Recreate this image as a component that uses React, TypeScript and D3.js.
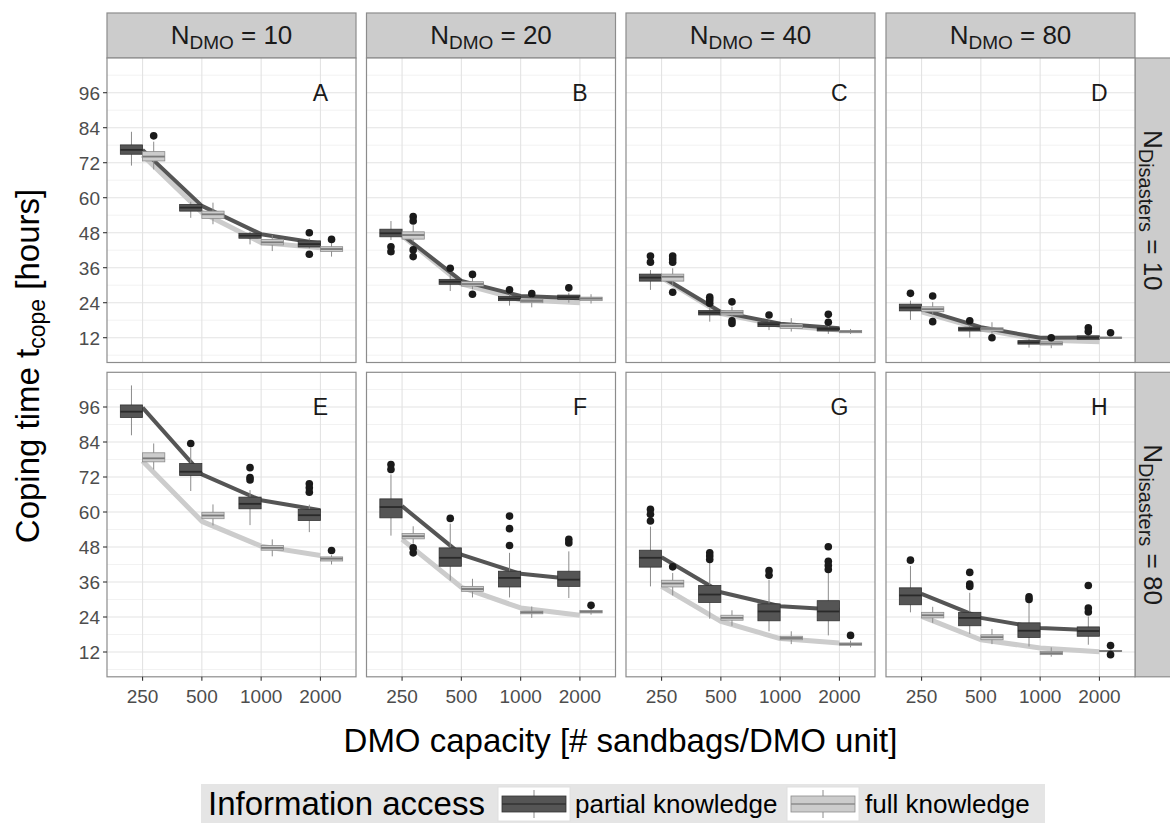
import React from 'react';
import * as d3 from 'd3';

const FONT = "'Liberation Sans', Arial, Helvetica, sans-serif";

const capacities = ['250', '500', '1000', '2000'];
const nDMO = ['10', '20', '40', '80'];
const nDisasters = ['10', '80'];
const yTicks = [12, 24, 36, 48, 60, 72, 84, 96];
const yMinor = [6, 18, 30, 42, 54, 66, 78, 90, 102];

// [capacity, knowledge, lower whisker, q1, median, q3, upper whisker, outliers]
type Row = [string, 'partial' | 'full', number, number, number, number, number, number[]];

const boxesA: Row[] = [
  ['250', 'partial', 71.0, 74.9, 76.4, 78.1, 82.6, []],
  ['500', 'partial', 53.1, 55.4, 56.6, 57.7, 58.6, []],
  ['1000', 'partial', 44.0, 46.1, 47.0, 47.8, 48.4, []],
  ['2000', 'partial', 42.6, 43.1, 44.1, 45.2, 46.1, [48.0, 40.6]],
  ['250', 'full', 69.7, 72.6, 74.1, 75.8, 79.2, [81.2]],
  ['500', 'full', 50.9, 52.9, 54.3, 55.4, 58.3, []],
  ['1000', 'full', 41.7, 43.8, 44.7, 45.7, 47.2, []],
  ['2000', 'full', 39.8, 41.6, 42.4, 43.2, 44.6, [45.7]],
];
const boxesB: Row[] = [
  ['250', 'partial', 45.5, 46.6, 47.8, 49.2, 52.0, [43.2, 41.5]],
  ['500', 'partial', 28.0, 30.3, 31.2, 32.0, 33.5, [35.8]],
  ['1000', 'partial', 23.0, 24.7, 25.4, 26.1, 26.9, [28.4]],
  ['2000', 'partial', 24.0, 25.2, 25.9, 26.6, 27.4, [29.1]],
  ['250', 'full', 44.9, 45.8, 47.2, 48.3, 50.6, [53.5, 52.0, 42.1, 39.8]],
  ['500', 'full', 28.6, 29.7, 30.4, 31.2, 32.6, [33.7, 26.9]],
  ['1000', 'full', 22.4, 24.0, 24.6, 25.2, 26.4, [27.1]],
  ['2000', 'full', 23.7, 24.7, 25.4, 25.9, 26.9, []],
];
const boxesC: Row[] = [
  ['250', 'partial', 28.4, 31.4, 32.6, 33.8, 35.2, [40.0, 37.9]],
  ['500', 'partial', 17.5, 19.8, 20.6, 21.3, 22.6, [25.9, 24.9, 23.8]],
  ['1000', 'partial', 14.6, 15.8, 16.6, 17.3, 17.8, [19.8]],
  ['2000', 'partial', 13.3, 14.3, 15.0, 15.4, 16.4, [20.0, 17.3]],
  ['250', 'full', 30.1, 31.4, 32.9, 33.8, 35.8, [40.0, 39.0, 37.9, 27.6]],
  ['500', 'full', 18.7, 19.8, 20.6, 21.3, 22.6, [24.3, 17.8, 16.9]],
  ['1000', 'full', 14.1, 15.2, 16.0, 16.7, 18.7, []],
  ['2000', 'full', 13.3, 13.7, 14.1, 14.5, 15.0, []],
];
const boxesD: Row[] = [
  ['250', 'partial', 18.1, 21.2, 22.3, 23.5, 24.7, [27.2]],
  ['500', 'partial', 12.0, 14.3, 15.0, 15.6, 16.4, [17.8]],
  ['1000', 'partial', 8.6, 9.8, 10.4, 11.0, 11.7, []],
  ['2000', 'partial', 11.4, 11.5, 12.0, 12.6, 12.9, [15.4, 14.1]],
  ['250', 'full', 19.8, 20.9, 21.8, 22.6, 24.2, [26.3, 17.5]],
  ['500', 'full', 13.3, 14.3, 15.0, 15.4, 17.3, [12.0]],
  ['1000', 'full', 8.4, 9.5, 10.0, 10.6, 11.7, [12.0]],
  ['2000', 'full', 11.7, 11.7, 12.0, 12.2, 12.2, [13.7]],
];
const boxesE: Row[] = [
  ['250', 'partial', 86.3, 92.4, 94.4, 96.7, 103.4, []],
  ['500', 'partial', 67.2, 72.5, 73.8, 76.6, 82.1, [83.5]],
  ['1000', 'partial', 55.5, 61.1, 62.8, 65.1, 67.5, [75.2, 71.8, 71.0]],
  ['2000', 'partial', 53.1, 57.1, 58.9, 60.9, 62.5, [69.7, 68.3, 66.8]],
  ['250', 'full', 74.6, 77.2, 78.4, 80.3, 83.5, []],
  ['500', 'full', 55.4, 57.7, 58.8, 59.9, 62.6, []],
  ['1000', 'full', 44.8, 46.9, 47.7, 48.5, 50.6, []],
  ['2000', 'full', 42.0, 43.2, 44.0, 44.6, 45.2, [46.8]],
];
const boxesF: Row[] = [
  ['250', 'partial', 51.9, 58.0, 61.7, 64.5, 72.9, [76.3, 74.6]],
  ['500', 'partial', 36.5, 41.4, 44.3, 47.7, 56.0, [57.8]],
  ['1000', 'partial', 30.7, 34.3, 37.4, 39.7, 46.0, [58.6, 54.3, 48.5]],
  ['2000', 'partial', 30.5, 34.5, 36.8, 39.7, 46.5, [50.6, 49.4]],
  ['250', 'full', 49.1, 50.8, 51.7, 52.6, 55.1, [47.7, 46.0]],
  ['500', 'full', 30.7, 32.8, 33.6, 34.5, 37.1, []],
  ['1000', 'full', 23.7, 25.1, 25.6, 26.0, 27.6, []],
  ['2000', 'full', 24.8, 25.4, 25.8, 26.2, 26.9, [28.0]],
];
const boxesG: Row[] = [
  ['250', 'partial', 34.5, 41.1, 44.3, 46.9, 55.0, [60.9, 59.2, 56.9]],
  ['500', 'partial', 23.4, 29.0, 31.7, 34.8, 42.6, [46.0, 44.9, 43.7]],
  ['1000', 'partial', 19.1, 22.7, 25.9, 28.5, 36.8, [39.9, 38.3]],
  ['2000', 'partial', 17.7, 22.7, 25.9, 29.6, 39.1, [48.1, 43.1, 41.7, 40.3]],
  ['250', 'full', 31.4, 34.3, 35.5, 36.6, 39.1, [41.2]],
  ['500', 'full', 21.0, 22.9, 23.7, 24.6, 26.3, []],
  ['1000', 'full', 14.7, 16.2, 16.8, 17.4, 19.1, []],
  ['2000', 'full', 13.6, 14.3, 14.7, 15.1, 15.9, [17.7]],
];
const boxesH: Row[] = [
  ['250', 'partial', 25.6, 28.2, 31.4, 34.0, 41.5, [43.5]],
  ['500', 'partial', 18.2, 21.0, 23.7, 25.6, 32.3, [39.3, 35.3, 34.5]],
  ['1000', 'partial', 13.9, 17.0, 19.3, 22.0, 29.0, [30.9, 30.0]],
  ['2000', 'partial', 14.5, 17.4, 19.2, 20.6, 24.2, [34.8, 27.1, 25.7]],
  ['250', 'full', 22.0, 23.7, 24.6, 25.6, 27.5, []],
  ['500', 'full', 14.7, 16.2, 17.1, 17.9, 19.9, []],
  ['1000', 'full', 10.4, 11.1, 11.6, 12.2, 13.6, []],
  ['2000', 'full', 12.1, 12.2, 12.3, 12.5, 12.6, [14.2, 11.1]],
];

// mean lines: [partial, full]
const meansA = [[76.4, 57.2, 47.5, 44.3], [74.6, 54.9, 44.6, 42.8]];
const meansB = [[47.3, 31.5, 26.3, 25.5], [47.0, 30.5, 25.0, 24.0]];
const meansC = [[33.0, 20.8, 16.8, 15.2], [32.6, 20.3, 16.2, 14.6]];
const meansD = [[21.8, 15.6, 12.0, 12.1], [20.9, 15.0, 11.2, 10.6]];
const meansE = [[95.8, 72.9, 64.0, 60.6], [77.5, 56.8, 48.3, 45.1]];
const meansF = [[62.0, 45.4, 38.8, 36.8], [50.6, 34.2, 27.1, 24.6]];
const meansG = [[44.5, 32.5, 27.7, 26.5], [34.5, 22.5, 16.6, 15.1]];
const meansH = [[31.9, 23.7, 20.2, 19.4], [24.2, 16.2, 13.4, 12.1]];

const panels = [
  { label: 'A', row: 0, col: 0, boxes: boxesA, means: meansA },
  { label: 'B', row: 0, col: 1, boxes: boxesB, means: meansB },
  { label: 'C', row: 0, col: 2, boxes: boxesC, means: meansC },
  { label: 'D', row: 0, col: 3, boxes: boxesD, means: meansD },
  { label: 'E', row: 1, col: 0, boxes: boxesE, means: meansE },
  { label: 'F', row: 1, col: 1, boxes: boxesF, means: meansF },
  { label: 'G', row: 1, col: 2, boxes: boxesG, means: meansG },
  { label: 'H', row: 1, col: 3, boxes: boxesH, means: meansH },
];

const COLS = [107, 366.5, 626, 886];
const ROWS = [58, 372.3];
const PW = 249;
const PH = 304.5;

const DARK = '#555555';
const LIGHT = '#cccccc';

function Panel({ p }: { p: (typeof panels)[number] }) {
  const x0 = COLS[p.col];
  const y0 = ROWS[p.row];
  const x = d3.scalePoint<string>().domain(capacities).range([x0, x0 + PW]).padding(0.6);
  const y = d3.scaleLinear().domain([12, 96]).range([y0 + 279.7, y0 + 34.7]);
  const step = x.step();
  const bw = step * 0.375;
  const line = d3
    .line<number>()
    .x((_, i) => x(capacities[i]) as number)
    .y((d) => y(d));

  return (
    <g>
      <rect x={x0} y={y0} width={PW} height={PH} fill="#fff" />
      {yMinor.map((t) => (
        <line key={'m' + t} x1={x0} x2={x0 + PW} y1={y(t)} y2={y(t)} stroke="#f2f2f2" strokeWidth={1} />
      ))}
      {yTicks.map((t) => (
        <line key={'g' + t} x1={x0} x2={x0 + PW} y1={y(t)} y2={y(t)} stroke="#e3e3e3" strokeWidth={1.1} />
      ))}
      {capacities.map((c) => (
        <line key={'v' + c} x1={x(c)} x2={x(c)} y1={y0} y2={y0 + PH} stroke="#e3e3e3" strokeWidth={1.1} />
      ))}
      <path d={line(p.means[1]) || ''} fill="none" stroke={LIGHT} strokeWidth={5} strokeLinejoin="round" />
      <path d={line(p.means[0]) || ''} fill="none" stroke={DARK} strokeWidth={4} strokeLinejoin="round" />
      {p.boxes.map((b, i) => {
        const [cap, k, lo, q1, med, q3, hi, out] = b;
        const cx = (x(cap) as number) + (k === 'partial' ? -bw / 2 : bw / 2);
        const fill = k === 'partial' ? DARK : LIGHT;
        const edge = k === 'partial' ? '#333333' : '#8c8c8c';
        const mid = k === 'partial' ? '#2a2a2a' : '#7a7a7a';
        return (
          <g key={i}>
            <line x1={cx} x2={cx} y1={y(hi)} y2={y(lo)} stroke="#8c8c8c" strokeWidth={1} />
            <rect x={cx - bw / 2} y={y(q3)} width={bw} height={Math.max(1, y(q1) - y(q3))} fill={fill} stroke={edge} strokeWidth={0.8} />
            <line x1={cx - bw / 2} x2={cx + bw / 2} y1={y(med)} y2={y(med)} stroke={mid} strokeWidth={1.8} />
            {out.map((o, j) => (
              <circle key={j} cx={cx} cy={y(o)} r={3.8} fill="#1a1a1a" />
            ))}
          </g>
        );
      })}
      <text x={x('2000')} y={y(96)} dy="0.36em" textAnchor="middle" fontSize={23} fill="#1a1a1a">
        {p.label}
      </text>
      <rect x={x0} y={y0} width={PW} height={PH} fill="none" stroke="#8c8c8c" strokeWidth={1.2} />
      {p.col === 0 &&
        yTicks.map((t) => (
          <g key={'yt' + t}>
            <line x1={x0 - 4} x2={x0} y1={y(t)} y2={y(t)} stroke="#333" strokeWidth={1.1} />
            <text x={x0 - 7} y={y(t)} dy="0.36em" textAnchor="end" fontSize={19} fill="#4d4d4d">
              {t}
            </text>
          </g>
        ))}
      {p.row === 1 &&
        capacities.map((c) => (
          <g key={'xt' + c}>
            <line x1={x(c)} x2={x(c)} y1={y0 + PH} y2={y0 + PH + 4} stroke="#333" strokeWidth={1.1} />
            <text x={x(c)} y={y0 + PH + 26} textAnchor="middle" fontSize={19} fill="#4d4d4d">
              {c}
            </text>
          </g>
        ))}
    </g>
  );
}

function LegendKey({ x, y, fill, edge }: { x: number; y: number; fill: string; edge: string }) {
  return (
    <g>
      <rect x={x} y={y} width={72} height={34} fill="#fff" stroke="#e0e0e0" strokeWidth={1} />
      <line x1={x + 36} x2={x + 36} y1={y + 3} y2={y + 31} stroke="#8c8c8c" strokeWidth={1} />
      <rect x={x + 4} y={y + 9} width={64} height={16} fill={fill} stroke={edge} strokeWidth={0.8} />
      <line x1={x + 4} x2={x + 68} y1={y + 17} y2={y + 17} stroke={edge} strokeWidth={1.5} />
    </g>
  );
}

export default function App() {
  const W = 1170;
  const H = 823;
  return (
    <svg
      width={W}
      height={H}
      fontFamily={FONT}
      style={{ position: 'absolute', left: 0, top: 0, background: '#fff' }}
    >
      {nDMO.map((n, i) => (
        <g key={'s' + n}>
          <rect x={COLS[i]} y={13} width={PW} height={45} fill="#cccccc" stroke="#8c8c8c" strokeWidth={1.2} />
          <text x={COLS[i] + PW / 2} y={44} textAnchor="middle" fontSize={26} fill="#1a1a1a">
            N<tspan fontSize={19} dy={5}>DMO</tspan>
            <tspan dy={-5}>{' = ' + n}</tspan>
          </text>
        </g>
      ))}
      {nDisasters.map((n, i) => (
        <g key={'r' + n}>
          <rect x={1135} y={ROWS[i]} width={40} height={PH} fill="#cccccc" stroke="#8c8c8c" strokeWidth={1.2} />
          <text
            transform={`translate(1144,${ROWS[i] + PH / 2}) rotate(90)`}
            textAnchor="middle"
            fontSize={26}
            fill="#1a1a1a"
          >
            N<tspan fontSize={20} dy={5}>Disasters</tspan>
            <tspan dy={-5}>{' = ' + n}</tspan>
          </text>
        </g>
      ))}
      {panels.map((p) => (
        <Panel key={p.label} p={p} />
      ))}
      <text transform="translate(39,366) rotate(-90)" textAnchor="middle" fontSize={33} fill="#000">
        Coping time t<tspan fontSize={23} dy={6}>cope</tspan>
        <tspan dy={-6}> [hours]</tspan>
      </text>
      <text x={620.5} y={752} textAnchor="middle" fontSize={33} fill="#000">
        DMO capacity [# sandbags/DMO unit]
      </text>
      <rect x={201} y={784} width={844} height={40} fill="#e5e5e5" />
      <text x={208} y={815} fontSize={33} fill="#000">
        Information access
      </text>
      <LegendKey x={498} y={787} fill={DARK} edge="#333333" />
      <text x={575} y={813} fontSize={26} fill="#000">
        partial knowledge
      </text>
      <LegendKey x={787} y={787} fill={LIGHT} edge="#8c8c8c" />
      <text x={865} y={813} fontSize={26} fill="#000">
        full knowledge
      </text>
    </svg>
  );
}
